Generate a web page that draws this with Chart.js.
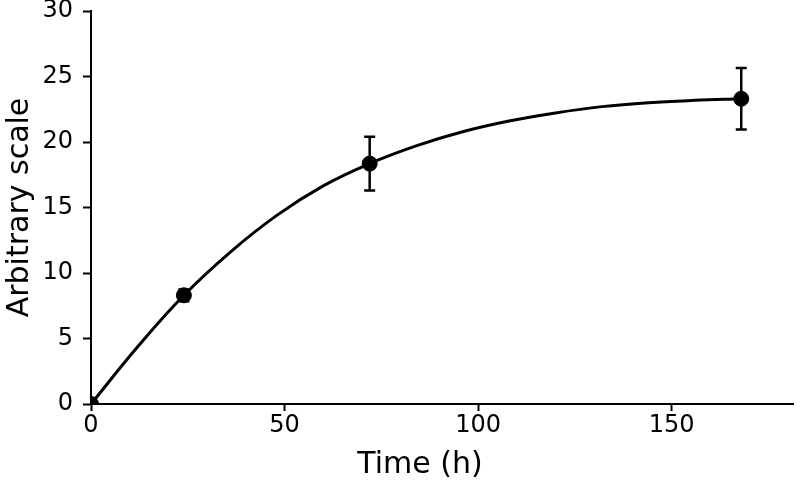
<!DOCTYPE html>
<html>
<head>
<meta charset="utf-8">
<script src="https://cdn.jsdelivr.net/npm/chart.js@4/dist/chart.umd.min.js"></script>
<style>
html,body{margin:0;padding:0;background:#fff;}
#wrap{width:802px;height:487px;position:relative;}
</style>
</head>
<body>
<div id="wrap"><canvas id="c" width="802" height="487"></canvas></div>
<script>
// Measured points (time in h, value, error)
const pointTimes = [0, 24, 72, 168];
const pointValues = [0, 8.3, 18.35, 23.3];
const pointErrors = [0, 0.45, 2.05, 2.35];

// Fitted curve
const curveTimes = [0, 12, 24, 36, 48, 60, 72, 84, 96, 108, 120, 132, 144, 156, 168];
const curveValues = [0, 4.35, 8.3, 11.6, 14.4, 16.65, 18.35, 19.7, 20.78, 21.6, 22.22, 22.7, 23.0, 23.18, 23.3];

const xTicks = [0, 50, 100, 150];
const yTicks = [0, 5, 10, 15, 20, 25, 30];

const xTitle = 'Time (h)';
const yTitle = 'Arbitrary scale';

const FONT = "'DejaVu Sans', Verdana, sans-serif";

const errorBarPlugin = {
  id: 'errorBars',
  afterDatasetsDraw(chart) {
    const ctx = chart.ctx;
    const xs = chart.scales.x, ys = chart.scales.y;
    ctx.save();
    ctx.strokeStyle = '#000';
    ctx.lineWidth = 2.5;
    const cap = 5.5;
    pointTimes.forEach((t, i) => {
      const e = pointErrors[i];
      if (!e) return;
      const px = xs.getPixelForValue(t);
      const yTop = ys.getPixelForValue(pointValues[i] + e);
      const yBot = ys.getPixelForValue(pointValues[i] - e);
      ctx.beginPath();
      ctx.moveTo(px, yTop); ctx.lineTo(px, yBot);
      ctx.moveTo(px - cap, yTop); ctx.lineTo(px + cap, yTop);
      ctx.moveTo(px - cap, yBot); ctx.lineTo(px + cap, yBot);
      ctx.stroke();
    });
    ctx.restore();
  }
};

const xTitlePlugin = {
  id: 'xTitle',
  afterDraw(chart) {
    const ctx = chart.ctx;
    ctx.save();
    ctx.fillStyle = '#000';
    ctx.font = "30px " + FONT;
    ctx.textAlign = 'center';
    ctx.textBaseline = 'middle';
    ctx.fillText(xTitle, 420, 465);
    ctx.restore();
  }
};

new Chart(document.getElementById('c'), {
  type: 'scatter',
  data: {
    datasets: [
      {
        data: pointTimes.map((t, i) => ({x: t, y: pointValues[i]})),
        backgroundColor: '#000',
        borderColor: '#000',
        pointRadius: 7.5,
        pointHoverRadius: 7.5,
        showLine: false,
        order: 0
      },
      {
        data: curveTimes.map((t, i) => ({x: t, y: curveValues[i]})),
        borderColor: '#000',
        borderWidth: 3,
        pointRadius: 0,
        showLine: true,
        tension: 0.4,
        fill: false,
        order: 1
      }
    ]
  },
  options: {
    responsive: false,
    animation: false,
    devicePixelRatio: 1,
    layout: { padding: { top: 11, right: 5, left: 0, bottom: 0 } },
    plugins: { legend: { display: false }, tooltip: { enabled: false } },
    scales: {
      x: {
        type: 'linear',
        min: 0,
        max: 181.5,
        afterBuildTicks: s => { s.ticks = xTicks.map(v => ({value: v})); },
        afterFit: s => { s.height = 83; s.paddingLeft = 0; s.paddingRight = 0; },
        grid: { display: true, drawOnChartArea: false, drawTicks: true, tickLength: 7, tickWidth: 2, tickColor: '#000' },
        border: { display: true, color: '#000', width: 2 },
        ticks: { color: '#000', font: { family: FONT, size: 24 }, padding: 0, maxRotation: 0 },
        title: { display: false }
      },
      y: {
        type: 'linear',
        min: 0,
        max: 30,
        afterBuildTicks: s => { s.ticks = yTicks.map(v => ({value: v})); },
        afterFit: s => { s.width = 91; s.paddingTop = 0; s.paddingBottom = 0; },
        grid: { display: true, drawOnChartArea: false, drawTicks: true, tickLength: 8, tickWidth: 2, tickColor: '#000' },
        border: { display: true, color: '#000', width: 2 },
        ticks: { color: '#000', font: { family: FONT, size: 24 }, padding: 10 },
        title: { display: true, text: yTitle, color: '#000', font: { family: FONT, size: 30 }, padding: { top: 2, bottom: 0 } }
      }
    }
  },
  plugins: [errorBarPlugin, xTitlePlugin]
});
</script>
</body>
</html>
